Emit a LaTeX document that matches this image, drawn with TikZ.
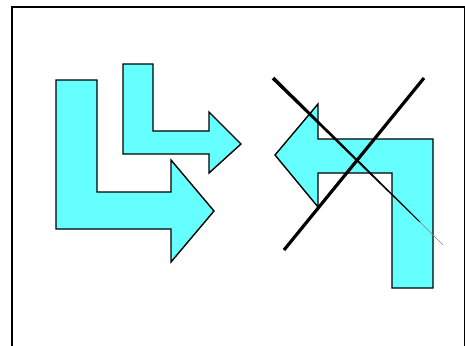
\documentclass[tikz,border=0pt]{standalone}
\usetikzlibrary{calc}
\definecolor{arrowcyan}{RGB}{102,255,255}
\tikzset{
  bentarrow/.style={fill=arrowcyan, draw=black, line width=1.4pt, line join=miter},
  crossline/.style={draw=black, line width=3.2pt}
}
\begin{document}
\begin{tikzpicture}[x=1pt,y=-1pt]
\useasboundingbox (0,0) rectangle (465,345);
\begin{scope}
\clip (0,0) rectangle (465,345);
\draw[line width=2pt] (11.5,7.5) rectangle (465,360);
\end{scope}
% big L arrow
\path[bentarrow] (56,80) -- (97,80) -- (97,192) -- (171,192) -- (171,160) -- (214,211)
  -- (171,262) -- (171,229) -- (56,229) -- cycle;
% small L arrow
\path[bentarrow] (123,64) -- (153,64) -- (153,131) -- (209,131) -- (209,112) -- (241,144)
  -- (209,173) -- (209,154) -- (123,154) -- cycle;
% left-pointing arrow bent downward
\path[bentarrow] (275,155) -- (318,104) -- (318,139) -- (433,139) -- (433,288) -- (392,288)
  -- (392,173) -- (318,173) -- (318,207) -- cycle;
% crossing lines
\coordinate (a1) at (284,250);
\coordinate (a2) at (424,78);
\draw[crossline] (a1) -- (a2);
\coordinate (b1) at (273,78);
\coordinate (b2) at (420,222);
\coordinate (b3) at (443,245);
\fill[black] ($(b1)+(-1.3,1.3)$) -- ($(b1)+(1.3,-1.3)$) -- ($(b2)+(0.35,-0.35)$) -- ($(b2)+(-0.35,0.35)$) -- cycle;
\draw[gray, line width=0.5pt] (b2) -- (b3);
\end{tikzpicture}
\end{document}
